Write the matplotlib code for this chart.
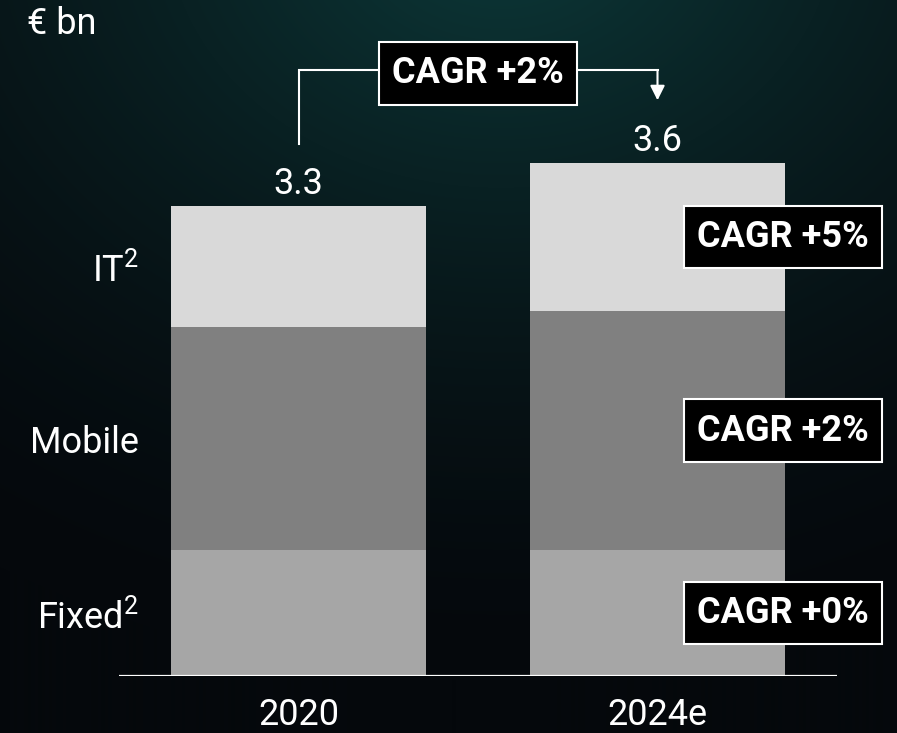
import numpy as np
import matplotlib
matplotlib.use('Agg')
import matplotlib.pyplot as plt

plt.rcParams['font.family'] = ['Roboto', 'DejaVu Sans']
plt.rcParams['mathtext.fontset'] = 'custom'
plt.rcParams['mathtext.rm'] = 'Roboto'
plt.rcParams['mathtext.it'] = 'Roboto'
plt.rcParams['mathtext.bf'] = 'Roboto:bold'

# data (EUR bn)
years = ['2020', '2024e']
segments = ['Fixed$^2$', 'Mobile', 'IT$^2$']
fixed = [0.885, 0.885]
mobile = [1.565, 1.675]
it = [0.85, 1.04]
totals = ['3.3', '3.6']
seg_cagr = ['CAGR +0%', 'CAGR +2%', 'CAGR +5%']
total_cagr = 'CAGR +2%'

colors = ['#a6a6a6', '#808080', '#d9d9d9']
FS = 26

fig = plt.figure(figsize=(8.97, 7.33), dpi=100)

# background: dark with teal glow at top
bg = fig.add_axes([0, 0, 1, 1], zorder=0)
h, w = 733, 897
yy, xx = np.mgrid[0:h, 0:w]
d = np.sqrt(((xx - 500) / 1.25) ** 2 + (yy + 80) ** 2)
t = np.clip(1 - d / 760, 0, 1) ** 1.6
top = np.array([0x0d, 0x3a, 0x3a]) / 255
base = np.array([0x05, 0x08, 0x0c]) / 255
img = base + (top - base) * t[..., None]
bg.imshow(img, aspect='auto', extent=[0, 1, 0, 1], origin='upper')
bg.axis('off')

ax = fig.add_axes([119 / 897, 57 / 733, 718 / 897, 676 / 733], zorder=1)
ax.patch.set_alpha(0)
x = np.arange(len(years))
bw = 0.713
bottom = np.zeros(len(years))
for vals, c in zip([fixed, mobile, it], colors):
    ax.bar(x, vals, bw, bottom=bottom, color=c, edgecolor='none', zorder=2)
    bottom += np.array(vals)

ax.set_xlim(-0.5, 1.5)
ax.set_ylim(0, 676 / 142.5)
ax.axhline(0, color='white', lw=1.6, zorder=3)
for s in ax.spines.values():
    s.set_visible(False)
ax.set_yticks([])
ax.set_xticks(x)
ax.set_xticklabels(years, color='white', fontsize=FS)
ax.tick_params(axis='x', length=0, pad=15)

# totals
for i, tl in enumerate(totals):
    ax.annotate(tl, (x[i], bottom[i]), xytext=(0, 3), textcoords='offset points',
                ha='center', va='bottom', color='white', fontsize=FS)

# segment labels left of first bar
lower = 0
for name, vals in zip(segments, [fixed, mobile, it]):
    ax.annotate(name, (x[0] - bw / 2, lower + vals[0] / 2), xytext=(-23, -3),
                textcoords='offset points', ha='right', va='center',
                color='white', fontsize=FS)
    lower += vals[0]

box = dict(boxstyle='square,pad=0.37', fc='black', ec='white', lw=1.5)

# segment CAGR boxes right of second bar
lower = 0
for lab, vals in zip(seg_cagr, [fixed, mobile, it]):
    ax.text(1.35, lower + vals[1] / 2, lab, ha='center', va='center', color='white',
            fontsize=FS, fontweight='bold', bbox=box, zorder=6, clip_on=False)
    lower += vals[1]

# total CAGR bracket
ly = 4.25
ax.plot([x[0], x[0], x[1]], [bottom[0] + 0.43, ly, ly], color='white', lw=1.5, zorder=4,
        solid_joinstyle='miter')
ax.annotate('', xy=(x[1], bottom[1] + 0.44), xytext=(x[1], ly),
            arrowprops=dict(arrowstyle='-|>', color='white', lw=1.5, mutation_scale=22,
                            shrinkA=0, shrinkB=0), zorder=4)
ax.text(0.5, ly - 0.02, total_cagr, ha='center', va='center', color='white', fontsize=FS,
        fontweight='bold', bbox=box, zorder=6)

fig.text(27 / 897, 1 - 24 / 733, '€ bn', ha='left', va='center', color='white', fontsize=FS)

fig.savefig('out.png', dpi=100)
